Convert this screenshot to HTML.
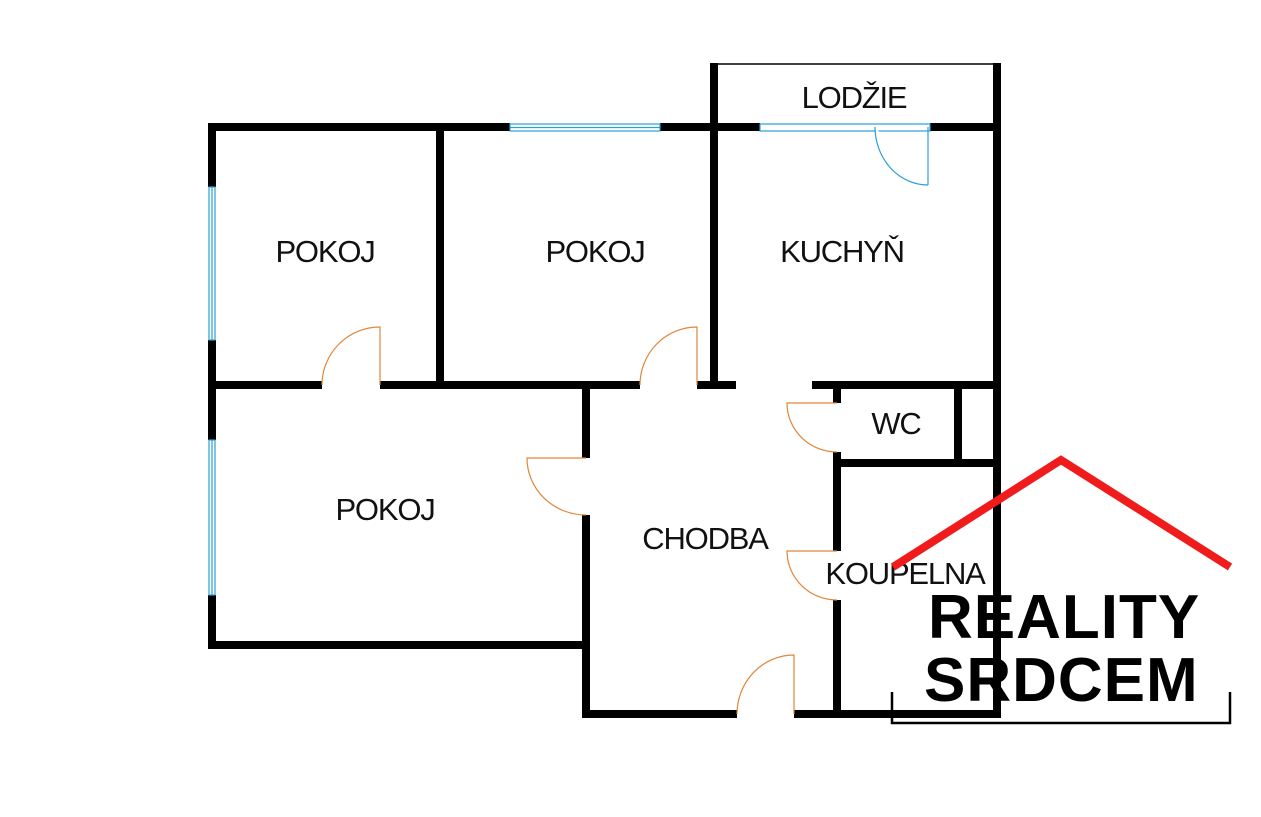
<!DOCTYPE html>
<html><head><meta charset="utf-8"><style>
html,body{margin:0;padding:0;background:#fff;width:1261px;height:817px;overflow:hidden}
svg{display:block}
.l{font-family:"Liberation Sans",sans-serif;font-size:31px;fill:#111;text-anchor:middle;letter-spacing:-1.2px}
.b{font-family:"Liberation Sans",sans-serif;font-size:62px;font-weight:bold;fill:#000;letter-spacing:1px}
</style></head><body>
<svg width="1261" height="817" viewBox="0 0 1261 817" xmlns="http://www.w3.org/2000/svg">
<g stroke="#000" stroke-width="8" fill="none" stroke-linecap="butt">
<line x1="208" y1="127" x2="510" y2="127"/>
<line x1="660" y1="127" x2="760" y2="127"/>
<line x1="930" y1="127" x2="1001" y2="127"/>
<line x1="212" y1="123" x2="212" y2="187"/>
<line x1="212" y1="340" x2="212" y2="440"/>
<line x1="212" y1="595" x2="212" y2="649"/>
<line x1="208" y1="385" x2="322" y2="385"/>
<line x1="380" y1="385" x2="640" y2="385"/>
<line x1="697" y1="385" x2="736" y2="385"/>
<line x1="812" y1="385" x2="1001" y2="385"/>
<line x1="440" y1="127" x2="440" y2="385"/>
<line x1="714" y1="63" x2="714" y2="385"/>
<line x1="997" y1="63" x2="997" y2="718"/>
<line x1="208" y1="645" x2="586" y2="645"/>
<line x1="586" y1="389" x2="586" y2="458"/>
<line x1="586" y1="515" x2="586" y2="718"/>
<line x1="582" y1="714" x2="737" y2="714"/>
<line x1="794" y1="714" x2="1001" y2="714"/>
<line x1="837" y1="385" x2="837" y2="403"/>
<line x1="837" y1="452" x2="837" y2="551"/>
<line x1="837" y1="600" x2="837" y2="718"/>
<line x1="837" y1="463" x2="1001" y2="463"/>
<line x1="958" y1="385" x2="958" y2="463"/>
</g>
<line x1="714" y1="64" x2="997" y2="64" stroke="#000" stroke-width="1.5"/>
<g stroke="#2a9fd6" stroke-width="1.2" fill="#fff">
<rect x="510" y="124" width="150" height="7"/>
<line x1="510" y1="127.5" x2="660" y2="127.5"/>
<rect x="760" y="124" width="170" height="7"/>
<rect x="209" y="187" width="6" height="153"/>
<line x1="212" y1="187" x2="212" y2="340"/>
<rect x="209" y="440" width="6" height="155"/>
<line x1="212" y1="440" x2="212" y2="595"/>
<line x1="928" y1="127" x2="928" y2="185"/>
<path d="M875 127 A53 58 0 0 0 928 185"/>
</g>
<g stroke="#e0873a" stroke-width="1.2" fill="none">
<path d="M380 385 V327 A58 58 0 0 0 322 385"/>
<path d="M697 385 V327 A57 58 0 0 0 640 385"/>
<path d="M586 458 H527 A59 57 0 0 0 586 515"/>
<path d="M794 714 V655 A57 59 0 0 0 737 714"/>
<path d="M837 403 H787 A50 49 0 0 0 837 452"/>
<path d="M837 551 H787 A50 49 0 0 0 837 600"/>
</g>
<text class="l" x="325" y="262">POKOJ</text>
<text class="l" x="595" y="262">POKOJ</text>
<text class="l" x="842" y="262">KUCHYŇ</text>
<text class="l" x="854" y="108">LODŽIE</text>
<text class="l" x="896" y="434">WC</text>
<text class="l" x="385" y="520">POKOJ</text>
<text class="l" x="705" y="549">CHODBA</text>
<text class="l" x="905" y="584">KOUPELNA</text>
<polyline points="893,567 1061,460 1230,567" stroke="#f01c1c" stroke-width="8" fill="none"/>
<text class="b" x="928" y="638">REALITY</text>
<text class="b" x="924" y="701">SRDCEM</text>
<polyline points="892,692 892,723 1230,723 1230,692" stroke="#000" stroke-width="2.5" fill="none"/>
</svg>
</body></html>
